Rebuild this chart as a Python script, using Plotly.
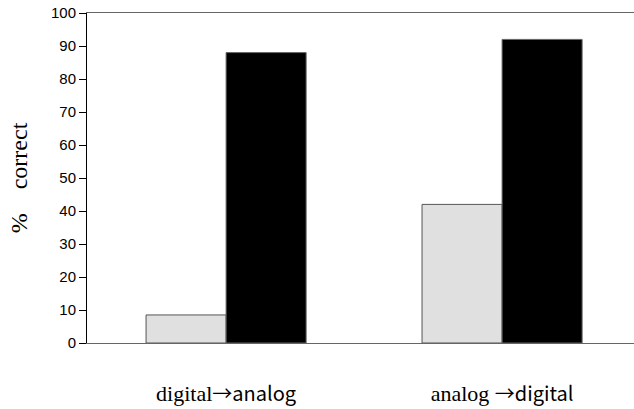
import plotly.graph_objects as go

categories = [0, 1]
tick_labels = [
    '<span style="font-family:\'Liberation Serif\';font-size:22px">digital</span><span style="font-family:\'Noto Sans CJK JP\';font-size:20px">→analog</span>',
    '<span style="font-family:\'Liberation Serif\';font-size:22px">analog </span><span style="font-family:\'Noto Sans CJK JP\';font-size:20px">→digital</span>',
]
series_a = [8.5, 42]   # light grey bars
series_b = [88, 92]    # black bars
y_ticks = list(range(0, 101, 10))

fig = go.Figure()
fig.add_trace(go.Bar(x=categories, y=series_a, marker=dict(color="#e0e0e0", line=dict(color="#555555", width=1)), showlegend=False))
fig.add_trace(go.Bar(x=categories, y=series_b, marker=dict(color="#000000", line=dict(color="#666666", width=1)), showlegend=False))

fig.update_layout(
    width=634, height=409,
    margin=dict(l=87, r=0, t=13, b=66),
    paper_bgcolor="white", plot_bgcolor="white",
    barmode="group", bargap=0.42, bargroupgap=0,
    font=dict(family="Liberation Sans, Arial", color="black"),
    xaxis=dict(
        range=[-0.504, 1.478], tickmode="array", tickvals=categories, ticktext=tick_labels,
        showline=True, mirror=True, linecolor="#666666", linewidth=1,
        ticks="", showgrid=False, zeroline=False, automargin=False,
        tickfont=dict(size=21, family="Liberation Serif", color="black"),
        ticklabelstandoff=32,
    ),
    yaxis=dict(
        range=[0, 100], tickmode="array", tickvals=y_ticks,
        showline=True, linecolor="black", linewidth=1,
        ticks="outside", ticklen=7, tickcolor="black",
        showgrid=False, zeroline=False, automargin=False,
        tickfont=dict(size=15, family="Liberation Sans, Arial", color="black"),
        title=dict(text="%&nbsp;&nbsp;&nbsp;&nbsp;correct",
                   font=dict(size=24, family="Liberation Serif", color="black"), standoff=16),
    ),
)

fig.write_html("out.html", config={"displayModeBar": False},
               post_script="document.body.style.margin='0';")
